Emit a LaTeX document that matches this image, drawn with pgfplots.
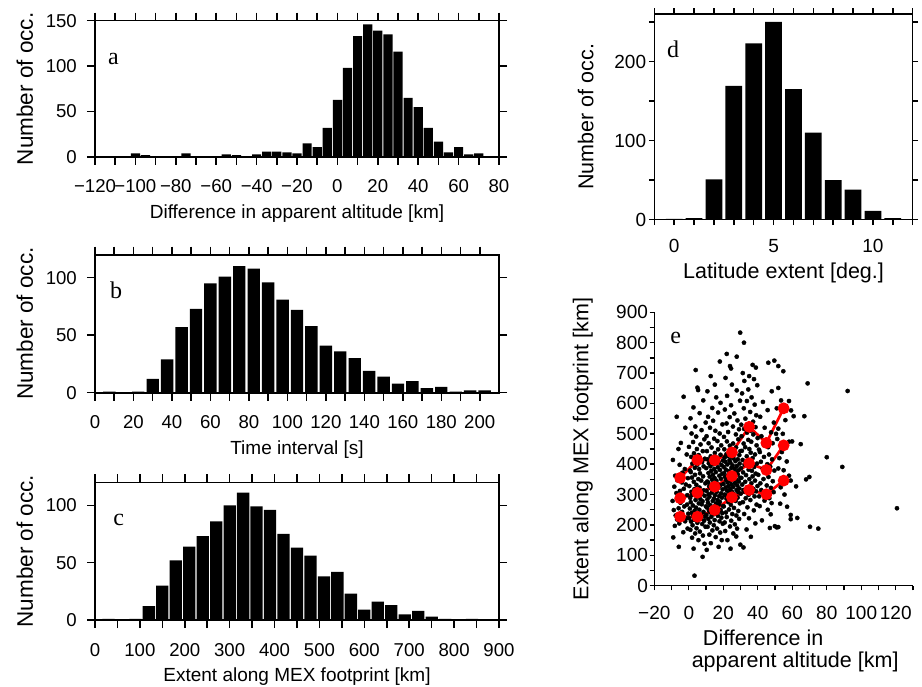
\documentclass[border=0pt]{standalone}
\usepackage{fontspec}
\setmainfont{Liberation Sans}
\newfontfamily\serif{Liberation Serif}
\usepackage{pgfplots}
\pgfplotsset{compat=1.18}
\pgfplotsset{
  hist/.style={
    scale only axis, axis on top, ybar, ymin=0, enlargelimits=false,
    tick align=outside, xtick pos=both, ytick pos=both,
    major tick length=8pt, minor tick length=8pt,
    axis line style={line width=1.6pt},
    every tick/.append style={line width=1.5pt, black},
    every minor tick/.append style={line width=1.5pt, black},
    tick label style={font=\fontsize{18.6}{20}\selectfont},
    xticklabel style={anchor=base, yshift=-28pt},
    yticklabel style={anchor=east, inner sep=0pt, xshift=-10pt},
    /pgf/number format/assume math mode=true,
    ylabel={Number of occ.},
    xlabel style={font=\fontsize{19}{22}\selectfont, at={(axis description cs:0.5,0)}, anchor=base, yshift=-61.5pt},
    ylabel style={font=\fontsize{22.5}{24}\selectfont, at={(axis description cs:0,0.5)}, anchor=base, yshift=62pt},
  },
}
\tikzset{letter/.style={font=\serif\fontsize{24}{24}\selectfont, anchor=base west, inner sep=0pt}}
\begin{document}
\begin{tikzpicture}
\useasboundingbox (0,0) rectangle (922pt,-687pt);

% ---------- panel a ----------
\begin{axis}[hist, at={(95pt,-157pt)}, anchor=south west, width=404pt, height=136.3pt,
  xmin=-120, xmax=80, ymax=150,
  xtick={-120,-100,...,80}, xticklabels={−120,−100,−80,−60,−40,−20,0,20,40,60,80},
  minor xtick={-110,-90,...,70}, ytick={0,50,100,150},
  bar width=9.2pt, xlabel={Difference in apparent altitude [km]}]
\addplot[fill=black, draw=none] coordinates {
(-105,1) (-100,4) (-95,2) (-90,1) (-75,4) (-70,1) (-55,3) (-50,2) (-45,1) (-40,3)
(-35,6) (-30,6) (-25,5) (-20,4) (-15,15) (-10,11) (-5,32) (0,63) (5,98) (10,133)
(15,146) (20,139) (25,135) (30,116) (35,65) (40,55) (45,32) (50,17) (55,5) (60,11)
(65,3) (70,4) (75,1)};
\node[letter] at (rel axis cs:0.032,0.675) {a};
\end{axis}

% ---------- panel b ----------
\begin{axis}[hist, at={(95pt,-392.7pt)}, anchor=south west, width=404pt, height=138pt,
  xmin=0, xmax=210, ymax=120,
  xtick={0,20,...,200}, minor xtick={10,30,...,190}, ytick={0,50,100},
  bar width=12.4pt, xlabel={Time interval [s]}]
\addplot[fill=black, draw=none] coordinates {
(7.5,1) (22.5,1) (30,12) (37.5,29) (45,57) (52.5,73) (60,95) (67.5,101) (75,110)
(82.5,108) (90,96) (97.5,81) (105,72) (112.5,58) (120,41) (127.5,36) (135,30)
(142.5,19) (150,14) (157.5,8) (165,10) (172.5,4) (180,5) (187.5,1) (195,2) (202.5,2)};
\node[letter] at (rel axis cs:0.037,0.68) {b};
\end{axis}

% ---------- panel c ----------
\begin{axis}[hist, at={(95pt,-620pt)}, anchor=south west, width=404pt, height=137.7pt,
  xmin=0, xmax=900, ymax=120,
  xtick={0,100,...,900}, minor xtick={50,150,...,850}, ytick={0,50,100},
  bar width=12.3pt, xlabel={Extent along MEX footprint [km]}]
\addplot[fill=black, draw=none] coordinates {
(30,1) (90,1) (120,12) (150,30) (180,52) (210,64) (240,73) (270,86) (300,100)
(330,111) (360,99) (390,96) (420,75) (450,63) (480,56) (510,38) (540,42) (570,23)
(600,9) (630,16) (660,13) (690,5) (720,8) (750,3) (780,1) (840,1)};
\node[letter] at (rel axis cs:0.045,0.683) {c};
\end{axis}

% ---------- panel d ----------
\begin{axis}[hist, at={(654.3pt,-219.7pt)}, anchor=south west, width=258.4pt, height=205.7pt,
  xmin=-1, xmax=12, ymax=260,
  major tick length=5.5pt, minor tick length=5.5pt,
  axis line style={line width=1.4pt},
  tick label style={font=\fontsize{19}{21}\selectfont},
  xticklabel style={yshift=0.5pt},
  yticklabel style={xshift=7.5pt},
  xtick={0,5,10}, minor xtick={-1,1,2,3,4,6,7,8,9,11,12},
  ytick={0,100,200}, minor ytick={50,150,250},
  xlabel style={font=\fontsize{21.5}{24}\selectfont, yshift=2.5pt},
  ylabel style={font=\fontsize{21.5}{24}\selectfont, yshift=-1pt},
  bar width=16.8pt, xlabel={Latitude extent [deg.]}]
\addplot[fill=black, draw=none] coordinates {
(0,1) (1,2) (2,51) (3,169) (4,223) (5,250) (6,165) (7,110) (8,50) (9,38) (10,11) (11,2)};
\node[letter] at (rel axis cs:0.049,0.79) {d};
\end{axis}

% ---------- panel e ----------
\begin{axis}[scale only axis, at={(654.3pt,-585.7pt)}, anchor=south west,
  width=258.7pt, height=273.4pt,
  xmin=-20, xmax=130, ymin=0, ymax=900, clip=false,
  axis lines*=left, tick align=outside,
  major tick length=4.7pt, minor tick length=4.7pt,
  axis line style={line width=1.4pt},
  every tick/.append style={line width=1.4pt, black},
  every minor tick/.append style={line width=1.4pt, black},
  tick label style={font=\fontsize{19}{21}\selectfont},
  xticklabel style={anchor=base, yshift=-28.9pt},
  yticklabel style={anchor=east, inner sep=0pt, xshift=-1.5pt},
  /pgf/number format/assume math mode=true,
  xtick={-20,0,...,120}, xticklabels={−20,0,20,40,60,80,100,120},
  minor xtick={-10,10,...,130},
  ytick={0,100,...,900}, minor ytick={50,150,...,850},
  ylabel={Extent along MEX footprint [km]},
  ylabel style={font=\fontsize{21.5}{24}\selectfont, at={(axis description cs:0,0.5)}, anchor=base, yshift=66pt},
  xlabel={Difference in\hspace*{41pt}\\[-2pt]\hspace*{23pt}apparent altitude [km]},
  xlabel style={font=\fontsize{21.5}{24}\selectfont, align=center, inner sep=0pt, at={(axis description cs:0.5,0)}, anchor=north, yshift=-43.6pt},
]
\addplot[only marks, mark=*, mark size=2.1pt, black] coordinates {
(-5.8,128) (-9.0,159) (-3.2,176) (-0.7,188) (-8.1,197) (-5.5,205) (-2.1,212) (-6.8,218) (-1.4,222) (-4.3,226)
(-7.6,231) (-0.3,237) (-3.9,243) (-8.7,249) (-5.9,255) (-2.6,261) (-1.0,267) (-4.8,273) (-9.4,279) (-6.3,285)
(-3.5,292) (-0.9,298) (-7.2,305) (-5.1,312) (-2.9,319) (-8.4,326) (-1.7,333) (-4.0,340) (-6.6,347) (-0.5,354)
(-7.9,362) (-3.7,372) (-2.3,384) (-5.3,398) (-9.2,414) (-1.2,432) (-6.0,450) (-4.6,470) (-2.0,520) (-7.0,556) (-3.0,622)
(3.3,33) (8.0,95) (2.8,122) (9.1,138) (5.6,150) (1.9,158) (8.2,165) (3.7,172) (6.4,178) (0.9,184)
(4.5,189) (9.7,194) (2.2,199) (7.8,203) (5.0,207) (1.3,211) (8.9,214) (3.1,217) (6.9,220) (0.2,222)
(4.8,225) (9.4,227) (2.6,229) (7.1,233) (5.3,236) (1.7,240) (8.5,243) (3.4,247) (6.1,250) (0.6,254)
(4.2,257) (9.9,261) (2.4,264) (7.5,268) (5.8,271) (1.1,275) (8.0,278) (3.9,282) (6.7,285) (0.8,289)
(4.6,292) (9.2,296) (2.0,299) (7.6,302) (5.2,305) (1.5,309) (8.7,314) (3.3,318) (6.2,323) (0.3,328)
(4.4,332) (9.6,337) (2.9,342) (7.2,346) (5.5,351) (1.8,356) (8.3,360) (3.6,365) (6.5,370) (1.2,374)
(0.7,379) (6.0,384) (3.5,388) (8.6,393) (4.9,398) (2.1,402) (7.7,407) (4.0,412) (9.3,418) (1.4,424)
(5.7,430) (3.0,436) (8.1,443) (4.7,450) (0.1,457) (6.8,465) (2.5,473) (9.0,482) (4.3,491) (1.6,501)
(7.4,512) (3.8,524) (9.8,537) (1.0,551) (6.3,568) (2.7,587) (8.4,610) (5.4,644) (5.0,652) (4.0,710)
(10.4,118) (17.3,128) (12.8,140) (19.1,150) (15.6,160) (11.9,168) (18.2,175) (13.7,182) (16.4,188) (10.9,194)
(14.5,199) (19.7,204) (12.2,208) (17.8,212) (15.0,216) (11.3,220) (18.9,224) (13.1,227) (16.9,230) (10.2,233)
(14.8,236) (19.4,239) (12.6,241) (17.1,243) (15.3,245) (11.7,247) (18.5,249) (13.4,251) (16.1,254) (10.6,257)
(14.2,260) (19.9,262) (12.4,265) (17.5,268) (15.8,271) (11.1,273) (18.0,276) (13.9,279) (16.7,282) (10.8,284)
(14.6,287) (19.2,290) (12.0,293) (17.6,295) (15.2,298) (11.5,301) (18.7,304) (13.3,306) (16.2,309) (10.3,312)
(14.4,315) (19.6,317) (12.9,320) (17.2,323) (15.5,325) (11.8,327) (18.3,330) (13.6,333) (16.5,336) (11.2,340)
(10.7,343) (16.0,346) (13.5,349) (18.6,352) (14.9,355) (12.1,359) (17.7,362) (14.0,365) (19.3,368) (11.4,371)
(15.7,374) (13.0,378) (18.1,381) (14.7,384) (10.1,387) (16.8,390) (12.5,393) (19.0,397) (14.3,400) (11.6,403)
(17.4,406) (13.8,409) (19.8,412) (11.0,416) (16.3,421) (12.7,426) (18.4,431) (15.1,437) (10.5,443) (17.0,449)
(13.2,455) (18.8,462) (11.5,469) (16.6,476) (14.7,484) (10.3,492) (17.9,501) (15.4,510) (12.3,520) (19.5,531)
(14.1,543) (11.2,556) (17.0,570) (13.6,585) (18.4,602) (15.9,620) (10.8,640) (15.1,662) (12.7,690) (18.0,738)
(24.2,122) (29.9,135) (22.4,150) (27.5,162) (25.8,172) (21.1,180) (28.0,188) (23.9,195) (26.7,202) (20.8,208)
(24.6,214) (29.2,220) (22.0,226) (27.6,231) (25.2,236) (21.5,241) (28.7,246) (23.3,251) (26.2,256) (20.3,261)
(24.4,266) (29.6,271) (22.9,275) (27.2,279) (25.5,283) (21.8,287) (28.3,290) (23.6,293) (26.5,295) (21.2,298)
(20.7,300) (26.0,303) (23.5,305) (28.6,308) (24.9,310) (22.1,313) (27.7,315) (24.0,318) (29.3,320) (21.4,323)
(25.7,325) (23.0,328) (28.1,330) (24.7,333) (20.1,335) (26.8,338) (22.5,340) (29.0,343) (24.3,345) (21.6,348)
(27.4,350) (23.8,353) (29.8,355) (21.0,358) (26.3,360) (22.7,363) (28.4,366) (25.1,368) (20.5,371) (27.0,374)
(23.2,377) (28.8,380) (21.5,382) (26.6,385) (24.7,388) (20.3,391) (27.9,394) (25.4,396) (22.3,399) (29.5,402)
(24.1,405) (21.2,408) (27.0,410) (23.6,413) (28.4,416) (25.9,419) (20.8,422) (25.1,424) (22.7,427) (29.3,430)
(21.8,433) (26.2,436) (24.5,438) (29.9,443) (20.6,449) (27.4,455) (23.8,461) (25.7,468) (22.1,475) (28.7,482)
(20.4,490) (27.3,498) (22.8,506) (29.1,515) (25.6,524) (21.9,534) (28.2,544) (23.7,555) (26.4,567) (20.9,580)
(24.5,594) (29.7,609) (22.2,625) (27.8,643) (25.0,662) (21.3,684) (24.5,715) (23.9,723) (27.8,754) (22.0,763)
(31.7,126) (36.0,161) (33.5,185) (38.6,205) (34.9,222) (32.1,236) (37.7,248) (34.0,258) (39.3,267) (31.4,275)
(35.7,282) (33.0,288) (38.1,294) (34.7,299) (30.1,303) (36.8,306) (32.5,309) (39.0,311) (34.3,313) (31.6,315)
(37.4,319) (33.8,324) (39.8,328) (31.0,333) (36.3,337) (32.7,342) (38.4,346) (35.1,351) (30.5,355) (37.0,360)
(33.2,364) (38.8,369) (31.5,373) (36.6,378) (34.7,382) (30.3,387) (37.9,391) (35.4,395) (32.3,399) (39.5,402)
(34.1,408) (31.2,414) (37.0,420) (33.6,426) (38.4,432) (35.9,438) (30.8,444) (35.1,450) (32.7,456) (39.3,462)
(31.8,468) (36.2,474) (34.5,480) (39.9,486) (30.6,492) (37.4,498) (33.8,504) (35.7,510) (32.1,516) (38.7,522)
(30.4,530) (37.3,540) (32.8,550) (39.1,561) (35.6,572) (31.9,584) (38.2,596) (33.7,608) (36.4,620) (30.9,633)
(34.5,646) (39.7,660) (32.2,674) (37.8,680) (35.0,690) (31.3,700) (38.9,718) (37.0,727) (32.0,800) (29.8,833)
(47.0,190) (49.9,196) (42.4,215) (47.5,235) (45.8,250) (41.1,262) (48.0,272) (43.9,280) (46.7,288) (40.8,294)
(44.6,300) (49.2,308) (42.0,315) (47.6,322) (45.2,330) (41.5,337) (48.7,344) (43.3,351) (46.2,358) (40.3,365)
(44.4,372) (49.6,379) (42.9,385) (47.2,392) (45.5,400) (41.8,408) (48.3,416) (43.6,424) (46.5,432) (41.2,440)
(40.7,448) (46.0,456) (43.5,463) (48.6,469) (44.9,480) (42.1,492) (47.7,505) (44.0,520) (49.3,537) (41.4,556)
(45.7,578) (43.0,605) (48.1,640) (46.1,734) (49.6,741)
(51.9,651) (54.8,706) (51.9,723) (58.1,608) (59.3,577) (60.8,558) (58.1,362) (59.1,346) (56.8,409) (51.9,386)
(59.9,475) (58.1,474) (53.3,324) (51.0,584) (51.9,517) (51.3,483) (50.6,500) (51.0,192) (51.9,193) (59.1,233)
(59.1,219) (62.9,223) (62.2,327) (54.0,440) (55.5,300) (53.0,270) (56.0,545) (57.0,260) (54.5,500) (52.5,420)
(56.0,350) (53.5,610) (55.0,380)
(64.9,466) (67.0,558) (68.9,666) (68.0,350) (69.9,358) (70.3,194) (75.1,188) (80.0,423) (89.0,391) (92.1,641)
(120.7,255)};
\addplot[red, line width=2.7pt, mark=*, mark size=4.5pt] coordinates {
(-5,355) (5,414) (15,413) (25,439) (35,523) (45,470) (55,584)};
\addplot[red, line width=2.7pt, mark=*, mark size=4.5pt] coordinates {
(-5,288) (5,306) (15,326) (25,361) (35,403) (45,381) (55,462)};
\addplot[red, line width=2.7pt, mark=*, mark size=4.5pt] coordinates {
(-5,227) (5,227) (15,249) (25,291) (35,315) (45,301) (55,346)};
\node[letter] at (rel axis cs:0.061,0.887) {e};
\end{axis}
\end{tikzpicture}
\end{document}
